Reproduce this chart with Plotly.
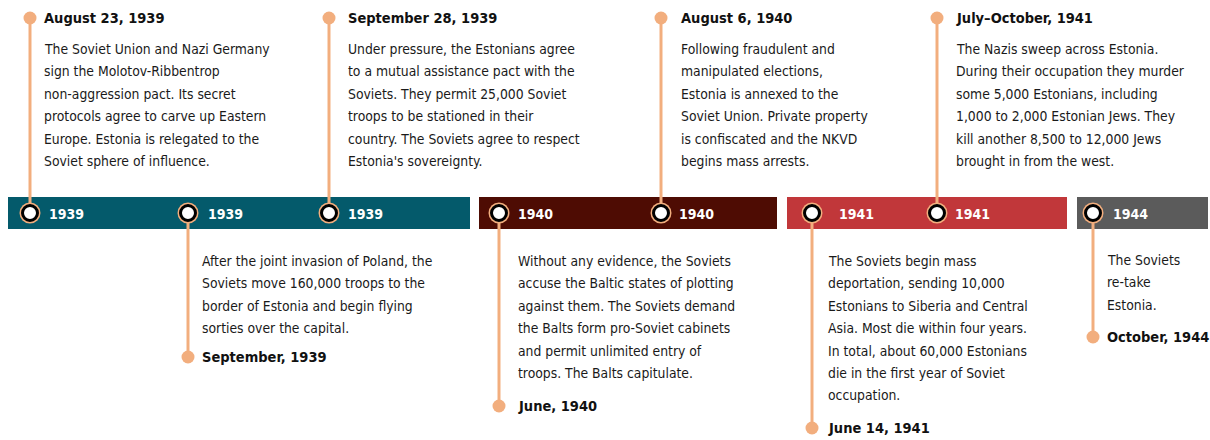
import plotly.graph_objects as go

# ---------------- data ----------------
band_years = ["1939", "1940", "1941", "1944"]
band_colors = ["#045A6B", "#4E0C03", "#C1373A", "#5B5B5B"]

event_years = ["1939", "1939", "1939", "1940", "1940", "1941", "1941", "1944"]
event_dates = ["August 23, 1939", "September, 1939", "September 28, 1939", "June, 1940",
               "August 6, 1940", "June 14, 1941", "July–October, 1941", "October, 1944"]
event_side = ["up", "down", "up", "down", "up", "down", "up", "down"]
event_text = [
    ["The Soviet Union and Nazi Germany", "sign the Molotov-Ribbentrop",
     "non-aggression pact. Its secret", "protocols agree to carve up Eastern",
     "Europe. Estonia is relegated to the", "Soviet sphere of influence."],
    ["After the joint invasion of Poland, the", "Soviets move 160,000 troops to the",
     "border of Estonia and begin flying", "sorties over the capital."],
    ["Under pressure, the Estonians agree", "to a mutual assistance pact with the",
     "Soviets. They permit 25,000 Soviet", "troops to be stationed in their",
     "country. The Soviets agree to respect", "Estonia's sovereignty."],
    ["Without any evidence, the Soviets", "accuse the Baltic states of plotting",
     "against them. The Soviets demand", "the Balts form pro-Soviet cabinets",
     "and permit unlimited entry of", "troops. The Balts capitulate."],
    ["Following fraudulent and", "manipulated elections,", "Estonia is annexed to the",
     "Soviet Union. Private property", "is confiscated and the NKVD", "begins mass arrests."],
    ["The Soviets begin mass", "deportation, sending 10,000", "Estonians to Siberia and Central",
     "Asia. Most die within four years.", "In total, about 60,000 Estonians",
     "die in the first year of Soviet", "occupation."],
    ["The Nazis sweep across Estonia.", "During their occupation they murder",
     "some 5,000 Estonians, including", "1,000 to 2,000 Estonian Jews. They",
     "kill another 8,500 to 12,000 Jews", "brought in from the west."],
    ["The Soviets", "re-take", "Estonia."],
]

# ---------------- layout constants (pixel space) ----------------
band_x = [(8, 470), (479, 777), (787, 1067), (1077, 1208)]
band_top, band_bot, band_mid = 197, 229, 213
event_x = [30, 188, 329, 499, 661, 812, 937, 1093]
label_dx = [17, 18, 17, 17, 16, 25, 16, 18]
text_dx = [12, 12, 17, 17, 18, 14, 17, 12]
down_end = [357, 406, 428, 337]
LINE = 22.4
PEACH = "#F2AE7E"
FONT = "DejaVu Sans Condensed, Liberation Sans Narrow, sans-serif"

fig = go.Figure()
shapes = []
for (x0, x1), col in zip(band_x, band_colors):
    shapes.append(dict(type="rect", xref="x", yref="y", x0=x0, x1=x1, y0=band_top, y1=band_bot,
                       fillcolor=col, line=dict(width=0), layer="below"))

annotations = []
dots_x, dots_y = [], []
down_i = 0
for i, x in enumerate(event_x):
    tx = x + text_dx[i]
    lines = event_text[i]
    if event_side[i] == "up":
        end_y = 18
        body_y0 = 49
    else:
        end_y = down_end[down_i]
        down_i += 1
        body_y0 = 261 if event_years[i] != "1944" else 260
    fig.add_trace(go.Scatter(x=[x, x], y=[band_mid, end_y], mode="lines",
                             line=dict(color=PEACH, width=3), hoverinfo="skip", showlegend=False))
    dots_x.append(x)
    dots_y.append(end_y)
    annotations.append(dict(x=tx, y=end_y, xref="x", yref="y", text="<b>%s</b>" % event_dates[i],
                            showarrow=False, xanchor="left", yanchor="middle",
                            font=dict(family=FONT, size=14.5, color="#111111")))
    for k, ln in enumerate(lines):
        annotations.append(dict(x=tx, y=body_y0 + k * LINE, xref="x", yref="y", text=ln,
                                showarrow=False, xanchor="left", yanchor="middle",
                                font=dict(family=FONT, size=13.8, color="#1a1a1a")))
    annotations.append(dict(x=x + label_dx[i], y=band_mid + 1, xref="x", yref="y",
                            text="<b>%s</b>" % event_years[i], showarrow=False,
                            xanchor="left", yanchor="middle",
                            font=dict(family=FONT, size=14, color="white")))

fig.add_trace(go.Scatter(x=dots_x, y=dots_y, mode="markers",
                         marker=dict(size=13, color=PEACH), hoverinfo="skip", showlegend=False))
fig.add_trace(go.Scatter(x=event_x, y=[band_mid] * len(event_x), mode="markers",
                         marker=dict(size=21, color=PEACH), hoverinfo="skip", showlegend=False))
fig.add_trace(go.Scatter(x=event_x, y=[band_mid] * len(event_x), mode="markers",
                         marker=dict(size=15, color="white", line=dict(color="black", width=3)),
                         hoverinfo="skip", showlegend=False))

fig.update_layout(
    width=1210, height=440, margin=dict(l=0, r=0, t=0, b=0),
    paper_bgcolor="white", plot_bgcolor="white",
    xaxis=dict(range=[0, 1210], visible=False, fixedrange=True),
    yaxis=dict(range=[440, 0], visible=False, fixedrange=True),
    shapes=shapes, annotations=annotations, showlegend=False,
)
fig.write_html("out.html", config={"displayModeBar": False},
               post_script="document.body.style.margin='0px';document.body.style.overflow='hidden';")
